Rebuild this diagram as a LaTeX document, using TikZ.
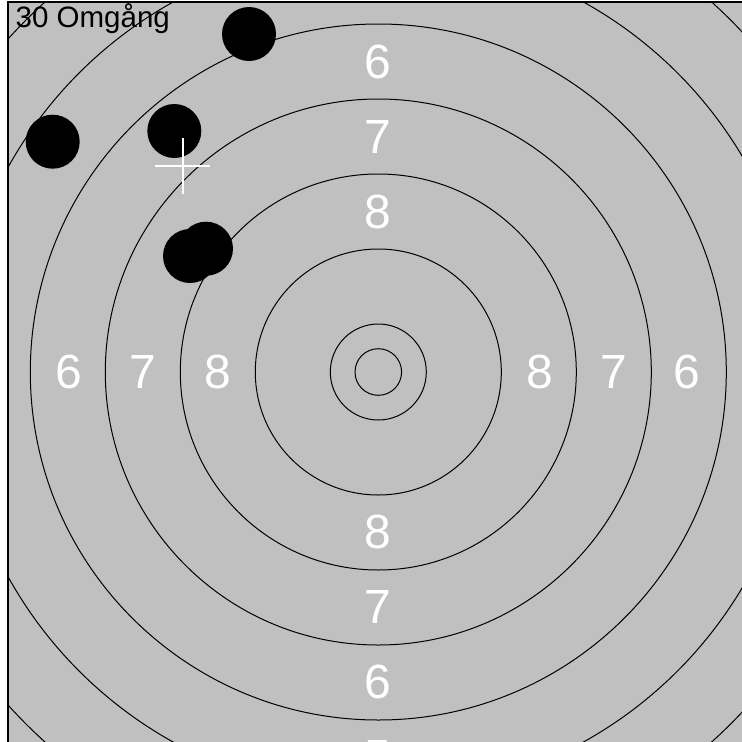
\documentclass[tikz,border=0pt]{standalone}
\usepackage{fontspec}
\setmainfont{Liberation Sans}
\definecolor{targetgrey}{RGB}{192,192,192}
\tikzset{
  ring/.style={draw=black, line width=1pt},
  ringlabel/.style={text=white, font=\fontsize{48}{48}\selectfont, inner sep=0pt},
  shot/.style={circle, fill=black, minimum size=54pt, inner sep=0pt},
  crossline/.style={draw=white, line width=2pt},
}
\begin{document}
\begin{tikzpicture}[x=1pt,y=-1pt]
\useasboundingbox (0,0) rectangle (742,742);
\clip (0,0) rectangle (742,742);
\fill[white] (0,0) rectangle (742,742);
\begin{scope}
\clip (8,2) rectangle (760,760);
\fill[targetgrey] (8,2) rectangle (760,760);
\coordinate (c) at (378.3,372);
\foreach \r in {23.3,48,123,198,273,348,423,498} {
  \draw[ring] (c) circle[radius=\r];
}
% ring numbers
\node[ringlabel] (t5) at (378.3,-13.5) {5};
\node[ringlabel] (t6) at (378.3,62) {6};
\node[ringlabel] (t7) at (378.3,137) {7};
\node[ringlabel] (t8) at (378.3,212) {8};
\node[ringlabel] (b8) at (378.3,532) {8};
\node[ringlabel] (b7) at (378.3,607) {7};
\node[ringlabel] (b6) at (378.3,682) {6};
\node[ringlabel] (b5) at (378.3,757.5) {5};
\node[ringlabel] (l6) at (68.6,372) {6};
\node[ringlabel] (l7) at (143,372) {7};
\node[ringlabel] (l8) at (218,372) {8};
\node[ringlabel] (r8) at (540,372) {8};
\node[ringlabel] (r7) at (613.6,372) {7};
\node[ringlabel] (r6) at (687,372) {6};
% shots
\node[shot] (s1) at (249,34) {};
\node[shot] (s2) at (52.7,141.7) {};
\node[shot] (s3) at (174.3,131) {};
\node[shot] (s4) at (206,248.7) {};
\node[shot] (s5) at (190,256) {};
% aiming cross
\coordinate (ct) at (182.5,138);
\coordinate (cb) at (182.5,194);
\coordinate (cl) at (155,166);
\coordinate (cr) at (210,166);
\draw[crossline] (ct) -- (cb);
\draw[crossline] (cl) -- (cr);
\end{scope}
\draw[black, line width=1.6pt] (8,760) -- (8,2) -- (760,2);
% title
\node[anchor=base west, inner sep=0pt, font=\fontsize{29.5}{29.5}\selectfont] (title) at (15.5,27.5) {30 Omgång};
\end{tikzpicture}
\end{document}
